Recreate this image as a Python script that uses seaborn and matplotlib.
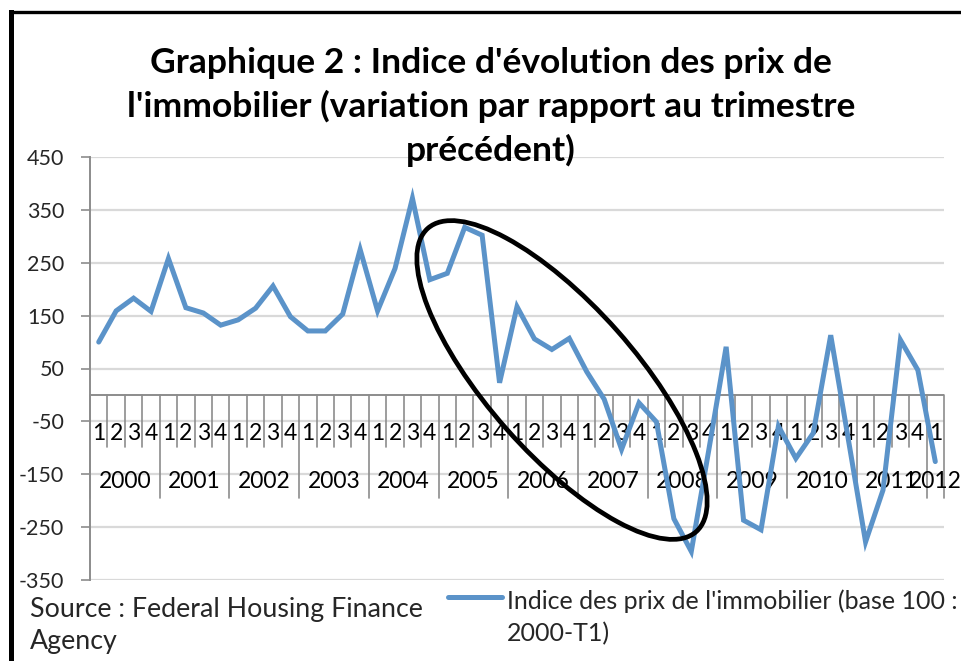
import numpy as np
import pandas as pd
import matplotlib
matplotlib.use("Agg")
import matplotlib.pyplot as plt
import matplotlib.transforms as mtransforms
from matplotlib.patches import Ellipse
from matplotlib.lines import Line2D
import seaborn as sns

# ---- data ----
years = [str(y) for y in range(2000, 2013)]
quarters = ['1', '2', '3', '4'] * 12 + ['1']
values = [100, 159, 183, 158, 258, 165, 155, 132, 142, 164, 206, 148,
          121, 121, 153, 275, 159, 239, 372, 218, 230, 317, 302, 23,
          167, 106, 86, 107, 44, -8, -103, -15, -51, -234, -296, -105,
          91, -237, -255, -59, -120, -72, 113, -82, -278, -180, 104, 47, -126]
y_ticks = [-350, -250, -150, -50, 50, 150, 250, 350, 450]
title_lines = ["Graphique 2 : Indice d'évolution des prix de",
               "l'immobilier (variation par rapport au trimestre",
               "précédent)"]
legend_label = ["Indice des prix de l'immobilier (base 100 :", "2000-T1)"]
source_lines = ["Source : Federal Housing Finance", "Agency"]

sns.set_theme(style="white")
FONT = ["Lato", "DejaVu Sans"]
plt.rcParams['font.family'] = FONT

W, H = 961, 661
fig = plt.figure(figsize=(W / 100, H / 100), dpi=100)
ax = fig.add_axes([90 / W, 1 - 580 / H, (944 - 90) / W, (580 - 157) / H])

LINE_COLOR = "#5b93c9"
GRID = "#d9d9d9"
AXC = "#8c8c8c"

df = pd.DataFrame({"idx": np.arange(len(values)), "val": values})
sns.lineplot(data=df, x="idx", y="val", ax=ax, color=LINE_COLOR, linewidth=3.6,
             solid_joinstyle="miter", zorder=3)

ax.set_xlim(-0.5, len(values) - 0.5)
ax.set_ylim(-350, 450)
ax.set_yticks(y_ticks)
ax.set_yticklabels([str(v) for v in y_ticks], fontsize=15.5)
ax.yaxis.grid(True, color=GRID, linewidth=1.6)
ax.set_axisbelow(True)
ax.tick_params(axis='y', length=6.5, width=1.2, color=AXC, pad=12, left=True)
ax.set_xticks([])
ax.set_xlabel("")
ax.set_ylabel("")
for s in ["top", "right", "bottom"]:
    ax.spines[s].set_visible(False)
ax.spines["left"].set_color(AXC)
ax.spines["left"].set_linewidth(1.4)

# category axis at y=0
ax.axhline(0, color=AXC, linewidth=1.4, zorder=2)
bt = mtransforms.blended_transform_factory(ax.transData, ax.transAxes)
y0 = 350 / 800
q_bot = (580 - 447) / 423
y_bot = (580 - 498) / 423
q_lab = (580 - 433) / 423
y_lab = (580 - 482) / 423
n = len(values)
for i in range(n + 1):
    b = i - 0.5
    is_year = (i % 4 == 0) or i == n
    ax.plot([b, b], [y0, y_bot if is_year else q_bot], transform=bt,
            color=AXC, linewidth=1.2, clip_on=False, zorder=2)
for i, q in enumerate(quarters):
    ax.text(i, q_lab, q, transform=bt, ha='center', va='center', fontsize=16.5,
            color='black', zorder=2)
for k, yr in enumerate(years):
    first = k * 4
    last = min(first + 3, n - 1)
    ax.text((first + last) / 2, y_lab, yr, transform=bt, ha='center', va='center',
            fontsize=16.5, color='black', zorder=2)

# title
for j, (t, yy) in enumerate(zip(title_lines, [63, 106, 150])):
    fig.text(491 / W, 1 - yy / H, t, ha='center', va='center', fontsize=25.5,
             fontweight='bold', color='black')

# legend (custom)
ident = mtransforms.IdentityTransform()
fig.add_artist(Line2D([448, 502], [H - 597, H - 597], transform=ident,
                      color=LINE_COLOR, linewidth=3.6, solid_capstyle='round'))
fig.text(507 / W, 1 - 601 / H, legend_label[0], ha='left', va='center', fontsize=18)
fig.text(507 / W, 1 - 634 / H, legend_label[1], ha='left', va='center', fontsize=18)

# source
fig.text(30 / W, 1 - 609 / H, source_lines[0], ha='left', va='center', fontsize=19.3)
fig.text(30 / W, 1 - 642 / H, source_lines[1], ha='left', va='center', fontsize=19.3)

# highlight ellipse
fig.add_artist(Ellipse((562, H - 380), 405, 148, angle=-48.5, transform=ident,
                       fill=False, edgecolor='black', linewidth=3.4, zorder=10))

# frame
fig.add_artist(Line2D([10.5, 10.5], [0, H - 11.5], transform=ident, color='black',
                      linewidth=3.6, solid_capstyle='projecting'))
fig.add_artist(Line2D([10.5, W], [H - 11.5, H - 11.5], transform=ident, color='black',
                      linewidth=2.4, solid_capstyle='projecting'))

fig.savefig("out.png", dpi=100)
